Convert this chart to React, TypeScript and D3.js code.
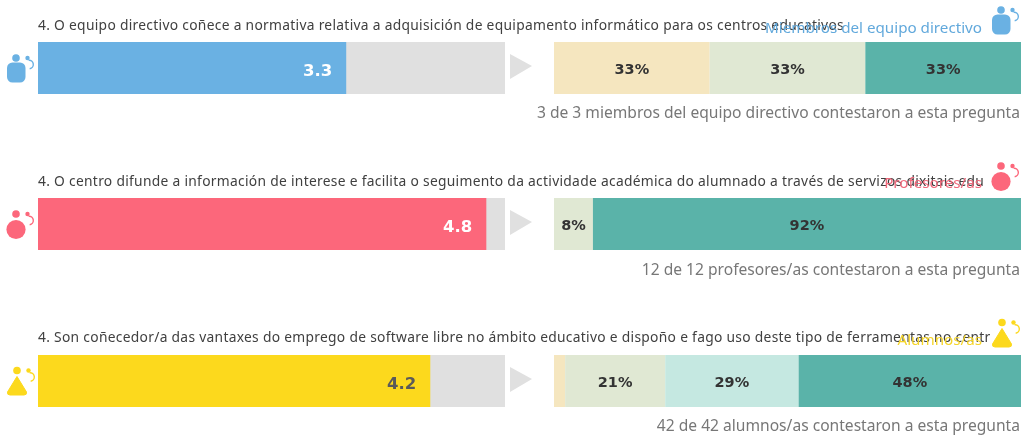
import React from "react";
import * as d3 from "d3";

const questions = [
  "4. O equipo directivo coñece a normativa relativa a adquisición de equipamento informático para os centros educativos",
  "4. O centro difunde a información de interese e facilita o seguimento da actividade académica do alumnado a través de servizos dixitais educativos",
  "4. Son coñecedor/a das vantaxes do emprego de software libre no ámbito educativo e dispoño e fago uso deste tipo de ferramentas no centro educativo",
];
const groups = ["Miembros del equipo directivo", "Profesores/as", "Alumnos/as"];
const scores = [3.3, 4.8, 4.2];
const footers = [
  "3 de 3 miembros del equipo directivo contestaron a esta pregunta",
  "12 de 12 profesores/as contestaron a esta pregunta",
  "42 de 42 alumnos/as contestaron a esta pregunta",
];
const answerKeys = ["a", "b", "c", "d"];
const answerCounts = [
  { a: 1, b: 1, c: 0, d: 1 },
  { a: 0, b: 1, c: 0, d: 11 },
  { a: 1, b: 9, c: 12, d: 20 },
];
const groupColors = ["#6ab1e3", "#fc677b", "#fcd91d"];
const legendColors = ["#62a9dc", "#f0697c", "#f5d52a"];
const scoreColors = ["#ffffff", "#ffffff", "#5a5a5a"];
const answerColors = ["#f5e6bf", "#e0e8d3", "#c5e8e1", "#5ab3a9"];

const FONT = "'Noto Sans', sans-serif";
const BOLD = "'DejaVu Sans', sans-serif";
const rowTop = [42, 198, 355];
const questionY = [30, 186, 342];
const legendY = [33, 188, 345];
const footerY = [118, 275, 431];
const clipWidth = [960, 953, 960];
const barH = 52;

const xScore = d3.scaleLinear().domain([0, 5]).range([38, 505]);
const xShare = d3.scaleLinear().domain([0, 1]).range([554, 1021]);
const stackGen = d3.stack<any>().keys(answerKeys);

function Icon({ kind, x, y, color }: { kind: number; x: number; y: number; color: string }) {
  const arc = d3.arc()({ innerRadius: 3.6, outerRadius: 5, startAngle: -0.1, endAngle: Math.PI * 0.95 }) as string;
  return (
    <g transform={`translate(${x},${y})`} fill={color}>
      <circle cx={9} cy={3.5} r={3.8} />
      <circle cx={20.5} cy={3.5} r={2.2} />
      <path d={arc} transform="translate(22,10)" />
      {kind === 0 && <rect x={0} y={8} width={18.5} height={20} rx={5.5} />}
      {kind === 1 && <circle cx={9} cy={19} r={9.6} />}
      {kind === 2 && (
        <path d="M9 9.5 L18.5 25 Q19 28 16 28 L2 28 Q-1 28 -0.5 25 Z" stroke={color} strokeWidth={1} strokeLinejoin="round" />
      )}
    </g>
  );
}

const iconLeft = [
  [7, 54.5],
  [7, 210.5],
  [8, 367],
];
const ICON_DX = 985;
const ICON_DY = -48;

export default function App() {
  return (
    <svg
      width={1025}
      height={439}
      style={{ position: "absolute", left: 0, top: 0, background: "#fff", filter: "blur(0.55px)" }}
      fontFamily={FONT}
    >
      <defs>
        {questions.map((_, i) => (
          <clipPath id={`q${i}`} key={i}>
            <rect x={30} y={questionY[i] - 20} width={clipWidth[i]} height={30} />
          </clipPath>
        ))}
      </defs>
      {questions.map((q, i) => {
        const y = rowTop[i];
        const series = stackGen([answerCounts[i]] as any[]);
        const total = answerKeys.reduce((s, k) => s + (answerCounts[i] as any)[k], 0);
        return (
          <g key={i}>
            <g clipPath={`url(#q${i})`}>
              <text x={38} y={questionY[i]} fontSize={13.8} letterSpacing={0.3} fill="#404040">
                {q}
              </text>
            </g>
            <rect x={xScore(0)} y={y} width={xScore(5) - xScore(0)} height={barH} fill="#e0e0e0" />
            <rect x={xScore(0)} y={y} width={xScore(scores[i]) - xScore(0)} height={barH} fill={groupColors[i]} />
            <text x={xScore(scores[i]) - 14} y={y + 34} textAnchor="end" fontSize={16.5} fontWeight={700} fontFamily={BOLD} fill={scoreColors[i]}>
              {scores[i].toFixed(1)}
            </text>
            <path d={`M510 ${y + 12} L532 ${y + 24} L510 ${y + 37} Z`} fill="#e0e0e0" />
            {series.map((s, k) => {
              const [a, b] = s[0] as unknown as [number, number];
              if (b - a === 0) return null;
              const share = (b - a) / total;
              const x0 = xShare(a / total);
              const x1 = xShare(b / total);
              return (
                <g key={k}>
                  <rect x={x0} y={y} width={x1 - x0} height={barH} fill={answerColors[k]} />
                  {share > 0.05 && (
                    <text x={(x0 + x1) / 2} y={y + 32} textAnchor="middle" fontSize={14.5} fontWeight={700} fontFamily={BOLD} fill="#333">
                      {Math.round(share * 100)}%
                    </text>
                  )}
                </g>
              );
            })}
            <text x={1020} y={footerY[i]} textAnchor="end" fontSize={15.6} fill="#777">
              {footers[i]}
            </text>
            <text x={982} y={legendY[i]} textAnchor="end" fontSize={15.2} fill={legendColors[i]}>
              {groups[i]}
            </text>
            <Icon kind={i} x={iconLeft[i][0]} y={iconLeft[i][1]} color={groupColors[i]} />
            <Icon kind={i} x={iconLeft[i][0] + ICON_DX} y={iconLeft[i][1] + ICON_DY} color={groupColors[i]} />
          </g>
        );
      })}
    </svg>
  );
}
